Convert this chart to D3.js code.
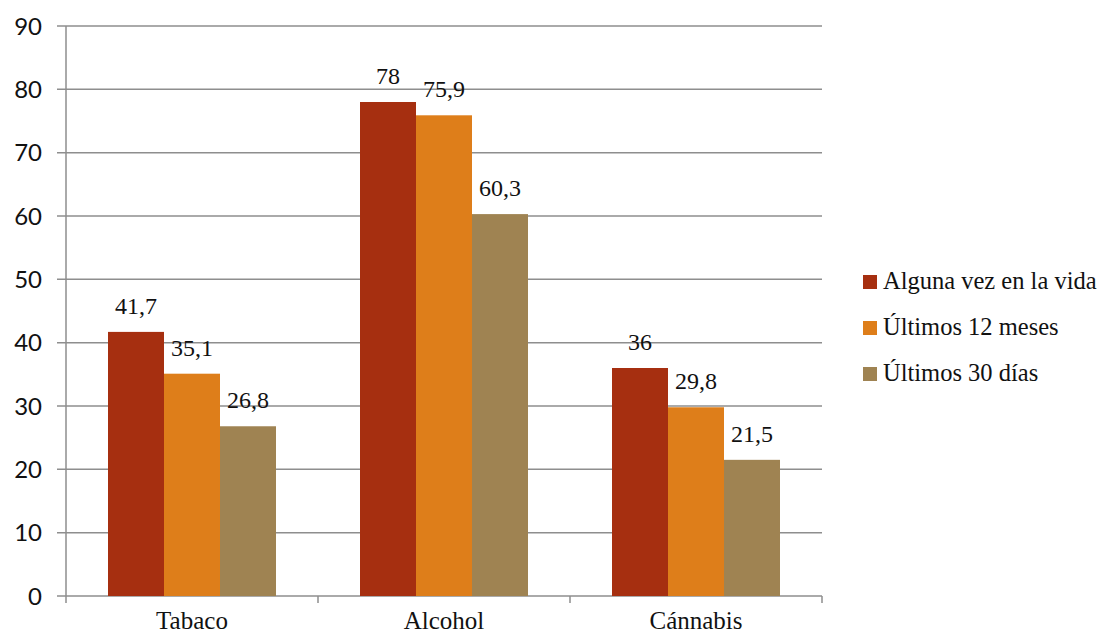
<!DOCTYPE html>
<html>
<head>
<meta charset="utf-8">
<script src="https://cdn.jsdelivr.net/npm/d3@7"></script>
<style>
  body { margin: 0; background: #fff; }
  .serif { font-family: "Liberation Serif", "Times New Roman", "DejaVu Serif", "Noto Serif", Times, serif; }
  .sans { font-family: Lato, "Open Sans", sans-serif; }
</style>
</head>
<body>
<div id="chart"></div>
<script>
const categories = ["Tabaco", "Alcohol", "Cánnabis"];
const seriesNames = ["Alguna vez en la vida", "Últimos 12 meses", "Últimos 30 días"];
const seriesColors = ["#a62f10", "#de7e1a", "#9f8352"];
const values = [
  [41.7, 35.1, 26.8],   // Tabaco
  [78, 75.9, 60.3],     // Alcohol
  [36, 29.8, 21.5]      // Cánnabis
];
const yTicks = [0, 10, 20, 30, 40, 50, 60, 70, 80, 90];

const width = 1104, height = 635;
const plot = {left: 66, right: 822, top: 26, bottom: 596};

const svg = d3.select("#chart").append("svg")
  .attr("width", width)
  .attr("height", height)
  .attr("viewBox", [0, 0, width, height]);

// scales
const x = d3.scaleBand()
  .domain(categories)
  .range([plot.left, plot.right]);

// gap width 150% -> bars occupy middle 2/3 of each band
const xInner = d3.scaleBand()
  .domain(d3.range(seriesNames.length))
  .range([x.bandwidth() / 6, x.bandwidth() * 5 / 6]);

const y = d3.scaleLinear()
  .domain([0, 90])
  .range([plot.bottom, plot.top]);

// gridlines + y tick labels
const grid = svg.append("g");
grid.selectAll("line")
  .data(yTicks)
  .join("line")
  .attr("x1", plot.left - 9)
  .attr("x2", plot.right)
  .attr("y1", d => y(d))
  .attr("y2", d => y(d))
  .attr("stroke", "#8e8e8e")
  .attr("stroke-width", 1.5);

grid.selectAll("text")
  .data(yTicks)
  .join("text")
  .attr("class", "sans")
  .attr("x", 42)
  .attr("y", d => y(d))
  .attr("dy", "0.36em")
  .attr("text-anchor", "end")
  .attr("font-size", 24)
  .attr("fill", "#111")
  .text(d => d);

// y axis line
svg.append("line")
  .attr("x1", plot.left).attr("x2", plot.left)
  .attr("y1", plot.top).attr("y2", plot.bottom)
  .attr("stroke", "#8e8e8e")
  .attr("stroke-width", 1.5);

// x axis ticks at band boundaries
const xEdges = categories.map(c => x(c)).concat([plot.right]);
svg.append("g").selectAll("line")
  .data(xEdges)
  .join("line")
  .attr("x1", d => d).attr("x2", d => d)
  .attr("y1", plot.bottom).attr("y2", plot.bottom + 7)
  .attr("stroke", "#8e8e8e")
  .attr("stroke-width", 1.5);

// bars
const groups = svg.append("g").selectAll("g")
  .data(categories)
  .join("g")
  .attr("transform", c => `translate(${x(c)},0)`);

groups.selectAll("rect")
  .data((c, i) => values[i].map((v, j) => ({v, j})))
  .join("rect")
  .attr("x", d => xInner(d.j))
  .attr("width", xInner.bandwidth())
  .attr("y", d => y(d.v))
  .attr("height", d => y(0) - y(d.v))
  .attr("fill", d => seriesColors[d.j]);

// data labels
groups.selectAll("text")
  .data((c, i) => values[i].map((v, j) => ({v, j})))
  .join("text")
  .attr("class", "serif")
  .attr("x", d => xInner(d.j) + xInner.bandwidth() / 2)
  .attr("y", d => y(d.v) - 18)
  .attr("text-anchor", "middle")
  .attr("font-size", 24)
  .attr("fill", "#111")
  .text(d => String(d.v).replace(".", ","));

// category labels
svg.append("g").selectAll("text")
  .data(categories)
  .join("text")
  .attr("class", "serif")
  .attr("x", c => x(c) + x.bandwidth() / 2)
  .attr("y", 629)
  .attr("text-anchor", "middle")
  .attr("font-size", 25)
  .attr("fill", "#111")
  .text(c => c);

// legend
const legend = svg.append("g").selectAll("g")
  .data(seriesNames)
  .join("g")
  .attr("transform", (d, i) => `translate(863,${282 + i * 46})`);

legend.append("rect")
  .attr("x", 0).attr("y", -7)
  .attr("width", 14).attr("height", 14)
  .attr("fill", (d, i) => seriesColors[i]);

legend.append("text")
  .attr("class", "serif")
  .attr("x", 20)
  .attr("y", 7)
  .attr("font-size", 24.5)
  .attr("fill", "#111")
  .text(d => d);
</script>
</body>
</html>
